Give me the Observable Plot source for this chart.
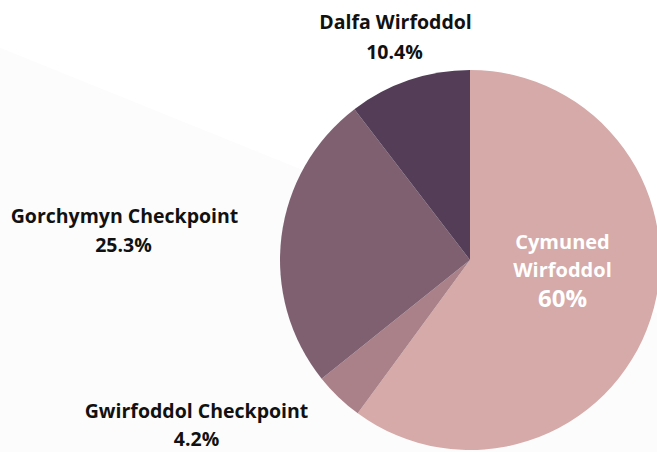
<!DOCTYPE html>
<html>
<head>
<meta charset="utf-8">
<script src="https://cdn.jsdelivr.net/npm/d3@7"></script>
<script src="https://cdn.jsdelivr.net/npm/@observablehq/plot@0.6"></script>
<style>
  html, body { margin: 0; padding: 0; background: #ffffff; }
  #chart { width: 657px; height: 452px; overflow: hidden;
    background: linear-gradient(202deg, #ffffff 0%, #ffffff 43.6%, #fcfcfc 43.7%, #fcfcfc 100%); }
  svg { display: block; }
</style>
</head>
<body>
<div id="chart"></div>
<script>
// ---- data ----
const categories = ["Cymuned Wirfoddol", "Gwirfoddol Checkpoint", "Gorchymyn Checkpoint", "Dalfa Wirfoddol"];
const values = [60, 4.2, 25.3, 10.4];
const percentLabels = ["60%", "4.2%", "25.3%", "10.4%"];
const colors = ["#d5aaa9", "#aa8189", "#7e6071", "#533d57"];

// ---- layout (pixels) ----
const W = 657, H = 452;
const CX = 470, CY = 260, R = 190;

const data = categories.map((c, i) => ({category: c, value: values[i], pct: percentLabels[i], color: colors[i]}));
const arcs = d3.pie().sort(null).value(d => d.value)(data);

// label placement offsets (px, relative to pie centre) per slice
const labelOffsets = {
  "Dalfa Wirfoddol":       {name: [-75, -238], pct: [-76, -208]},
  "Gorchymyn Checkpoint":  {name: [-346, -44], pct: [-347, -15]},
  "Gwirfoddol Checkpoint": {name: [-274, 151], pct: [-274, 179]}
};
const toX = px => px / R, toY = py => -py / R;

const outerNames = [], outerPcts = [];
data.forEach(d => {
  const o = labelOffsets[d.category];
  if (!o) return;
  outerNames.push({x: toX(o.name[0]), y: toY(o.name[1]), text: d.category});
  outerPcts.push({x: toX(o.pct[0]), y: toY(o.pct[1]), text: d.pct});
});
const main = data[0];
const innerWords = main.category.split(" ");
const innerLines = [
  {x: toX(92), y: toY(-18), text: innerWords[0], size: 20},
  {x: toX(92), y: toY(10), text: innerWords[1], size: 20},
  {x: toX(92), y: toY(39), text: main.pct, size: 24}
];

function pieMark(index, scales) {
  const x0 = scales.x(0), y0 = scales.y(0);
  const r = scales.x(1) - scales.x(0);
  const arcGen = d3.arc().innerRadius(0).outerRadius(r);
  const g = d3.create("svg:g").attr("transform", `translate(${x0},${y0})`);
  g.selectAll("path").data(arcs).join("path")
    .attr("d", arcGen)
    .attr("fill", d => d.data.color);
  return g.node();
}

const font = "'Open Sans', sans-serif";
const chart = Plot.plot({
  width: W,
  height: H,
  margin: 0,
  style: {fontFamily: font, background: "transparent"},
  x: {type: "linear", domain: [-CX / R, (W - CX) / R], axis: null},
  y: {type: "linear", domain: [-(H - CY) / R, CY / R], axis: null},
  marks: [
    pieMark,
    Plot.text(outerNames, {x: "x", y: "y", text: "text", fontSize: 19.5, fontWeight: "bold", fill: "#111111", textAnchor: "middle"}),
    Plot.text(outerPcts, {x: "x", y: "y", text: "text", fontSize: 19.5, fontWeight: "bold", fill: "#111111", textAnchor: "middle"}),
    Plot.text(innerLines, {x: "x", y: "y", text: "text", fontSize: d => d.size, fontWeight: "bold", fill: "#ffffff", textAnchor: "middle"})
  ]
});
document.getElementById("chart").appendChild(chart);
</script>
</body>
</html>
